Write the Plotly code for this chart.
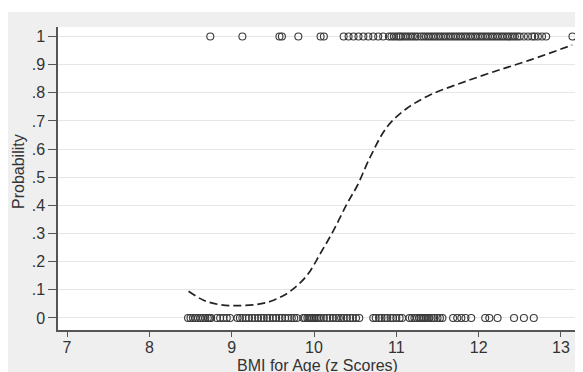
import plotly.graph_objects as go

# Observed outcomes (y = 1)
x_one = [8.74, 9.13, 9.58, 9.61, 9.81, 10.08, 10.12,
         10.36, 10.42, 10.48, 10.54, 10.60, 10.66, 10.72, 10.78, 10.84,
         10.91, 10.94, 10.97, 11.00, 11.03, 11.05, 11.08, 11.11, 11.14, 11.17,
         11.20, 11.23, 11.26, 11.30, 11.33, 11.36, 11.39, 11.42, 11.45, 11.48,
         11.51, 11.54, 11.57, 11.60, 11.63, 11.66, 11.69, 11.72, 11.75, 11.78,
         11.81, 11.84, 11.87, 11.90, 11.93, 11.96, 11.99, 12.02, 12.05, 12.08,
         12.11, 12.14, 12.17, 12.20, 12.23, 12.26, 12.29, 12.32, 12.35, 12.38,
         12.41, 12.44, 12.47, 12.50,
         12.55, 12.60, 12.65, 12.68, 12.72, 12.77, 12.82, 13.14]
# Observed outcomes (y = 0)
x_zero = [8.47, 8.50, 8.53, 8.56, 8.59, 8.62, 8.65, 8.68, 8.71, 8.73, 8.75,
          8.82, 8.86, 8.90, 8.94, 8.98,
          9.07, 9.10, 9.13, 9.17, 9.21, 9.25, 9.28, 9.32, 9.36, 9.39, 9.43,
          9.46, 9.50, 9.54, 9.58, 9.61, 9.65, 9.69, 9.73, 9.76, 9.79,
          9.87, 9.89, 9.92, 9.94, 9.96, 9.98, 10.00, 10.02, 10.04, 10.06, 10.08,
          10.12, 10.16, 10.19, 10.23, 10.27, 10.30, 10.33, 10.36, 10.40, 10.44,
          10.47, 10.51, 10.55,
          10.72, 10.75, 10.79, 10.82, 10.86, 10.89, 10.93, 10.96, 11.00, 11.04, 11.07,
          11.16, 11.19, 11.22, 11.25, 11.28, 11.30, 11.32, 11.34, 11.36, 11.38,
          11.40, 11.43, 11.46, 11.50, 11.53, 11.56,
          11.69, 11.74, 11.79, 11.84, 11.91,
          12.08, 12.13, 12.23,
          12.43, 12.55, 12.67]

# Fitted probability curve
curve_x = [8.476, 8.658, 8.86, 9.063, 9.306, 9.509, 9.712, 9.914, 10.077, 10.239,
           10.401, 10.522, 10.685, 10.888, 11.13, 11.414, 11.779, 12.184, 12.63, 13.137]
curve_y = [0.095, 0.063, 0.047, 0.044, 0.048, 0.063, 0.095, 0.151, 0.229, 0.312,
           0.406, 0.468, 0.573, 0.679, 0.745, 0.793, 0.834, 0.875, 0.917, 0.970]

y_ticks = [0, 0.1, 0.2, 0.3, 0.4, 0.5, 0.6, 0.7, 0.8, 0.9, 1]
y_labels = ["0", ".1", ".2", ".3", ".4", ".5", ".6", ".7", ".8", ".9", "1"]
x_ticks = [7, 8, 9, 10, 11, 12, 13]

marker = dict(symbol="circle-open", size=7, color="#3a3a3a", line=dict(width=1.1, color="#3a3a3a"))

fig = go.Figure()
fig.add_trace(go.Scatter(x=x_one, y=[1] * len(x_one), mode="markers", marker=marker,
                         showlegend=False, hoverinfo="x"))
fig.add_trace(go.Scatter(x=x_zero, y=[0] * len(x_zero), mode="markers", marker=marker,
                         showlegend=False, hoverinfo="x"))
fig.add_trace(go.Scatter(x=curve_x, y=curve_y, mode="lines",
                         line=dict(color="#222222", width=1.7, dash="8px,4px", shape="spline"),
                         showlegend=False))

# figure sits at page offset (8, 8) because of the default body margin
W, H = 575, 372
L, R, T, B = 50, 6, 19, 50
pw, ph = W - L - R, H - T - B

font = dict(family="Liberation Sans, Arial, sans-serif", size=16, color="#333333")

fig.update_layout(
    width=W, height=H,
    margin=dict(l=L, r=R, t=T, b=B, pad=0, autoexpand=False),
    paper_bgcolor="#efefef",
    plot_bgcolor="white",
    font=font,
    xaxis=dict(range=[6.89, 13.195], tickvals=x_ticks, showgrid=False, zeroline=False,
               showline=True, linecolor="#555555", linewidth=1.5,
               ticks="outside", ticklen=5, tickcolor="#555555", tickwidth=1,
               ticklabelstandoff=-3, automargin=False),
    yaxis=dict(range=[-0.0427, 1.0338], tickvals=y_ticks, ticktext=y_labels,
               showgrid=True, gridcolor="#e6e6e6", gridwidth=1, zeroline=False,
               showline=True, linecolor="#555555", linewidth=1.5,
               ticks="outside", ticklen=8, tickcolor="#555555", tickwidth=1,
               automargin=False),
    annotations=[
        dict(text="BMI for Age (z Scores)", xref="paper", yref="paper",
             x=0.5, y=-(357 - (H - B)) / ph, xanchor="center", yanchor="middle",
             showarrow=False, font=font),
        dict(text="Probability", xref="paper", yref="paper", textangle=-90,
             x=(10 - L) / pw, y=1 - (164 - T) / ph, xanchor="center", yanchor="middle",
             showarrow=False, font=font),
    ],
    shapes=[
        dict(type="rect", xref="paper", yref="paper", layer="below",
             x0=-L / pw - 0.01, x1=(W - L) / pw + 0.01,
             y0=1 + (T - 4) / ph, y1=1 + T / ph + 0.01,
             fillcolor="white", line=dict(width=0)),
    ],
)

fig.write_html("out.html")
